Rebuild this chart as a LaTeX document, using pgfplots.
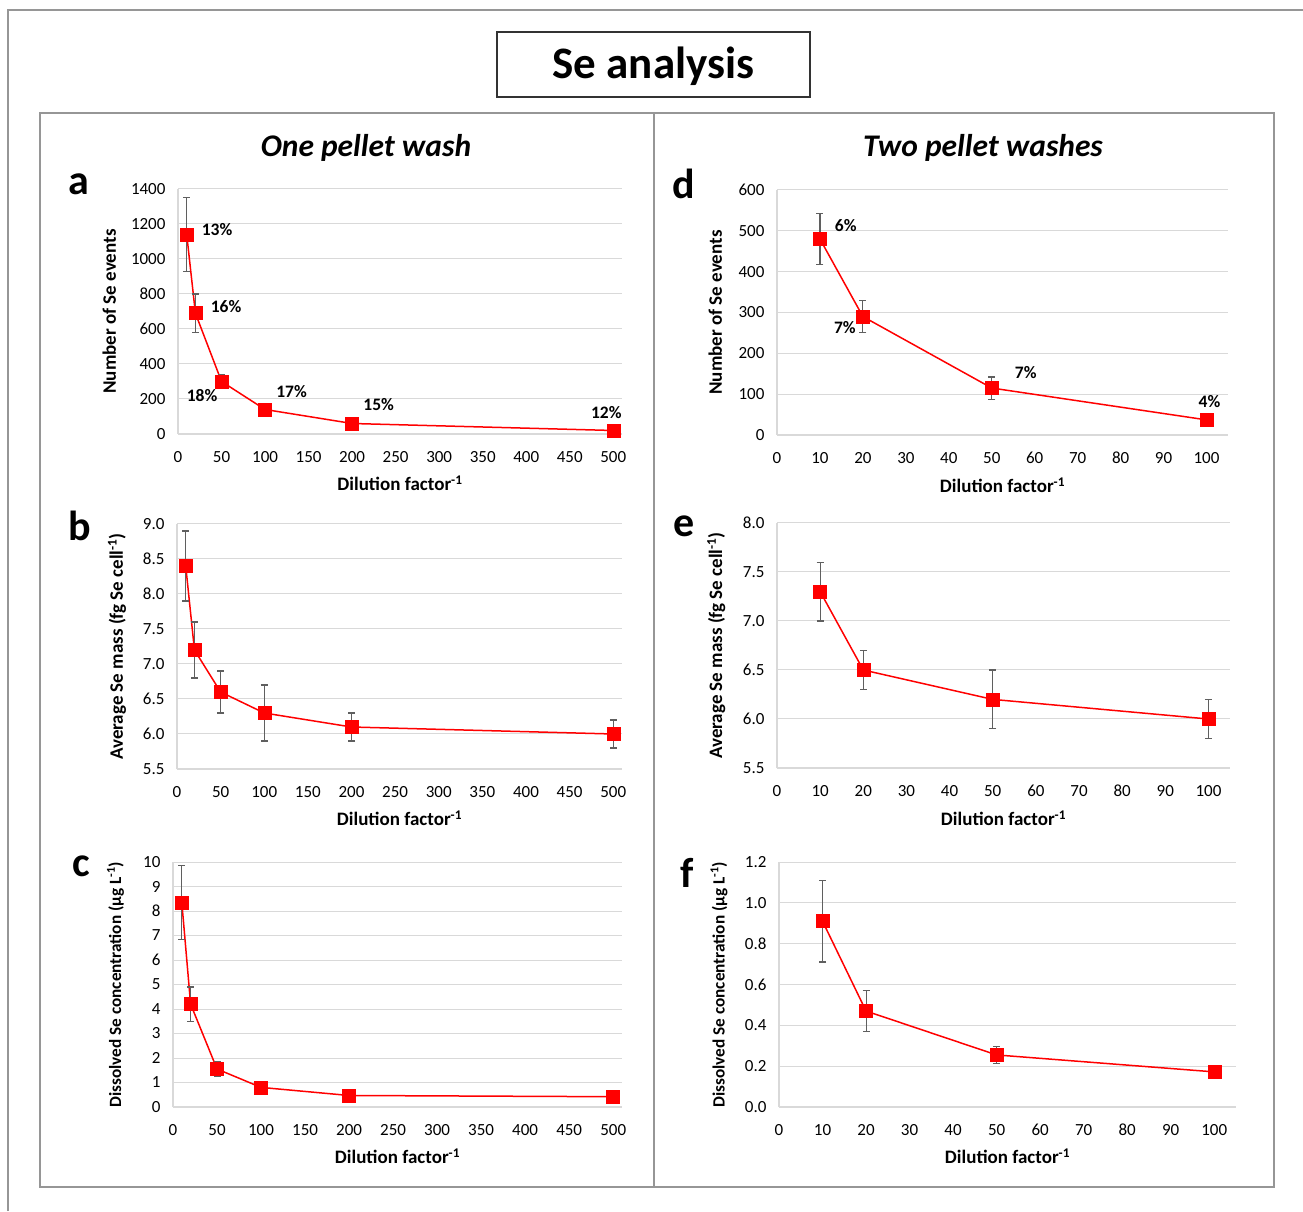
\documentclass[border=0pt]{standalone}
\usepackage{fontspec}
\setmainfont{Carlito}
\usepackage{pgfplots}
\pgfplotsset{compat=1.18}
\definecolor{gridgray}{RGB}{217,217,217}
\definecolor{errgray}{RGB}{95,95,95}
\definecolor{framegray}{RGB}{150,150,150}

\pgfplotsset{
  sepanel/.style={
    scale only axis, height=245pt,
    axis x line=bottom, axis y line=left,
    axis line style={-, draw=gridgray, line width=1.2pt},
    ymajorgrids, grid style={gridgray, line width=1pt},
    tick style={draw=none}, major tick length=0pt,
    tick label style={font=\fontsize{17}{19}\selectfont},
    /pgf/number format/assume math mode=true,
    /pgf/number format/1000 sep={},
    xticklabel style={yshift=-14pt, text height=11pt, text depth=0pt},
    yticklabel style={xshift=-9pt},
    label style={font=\bfseries\fontsize{19}{21}\selectfont},
    xmin=0, clip=false,
  },
  leftx/.style={xmax=510, xtick={0,50,...,500}},
  rightx/.style={xmax=105, xtick={0,10,...,100}},
  dec1/.style={yticklabel style={/pgf/number format/.cd, fixed, fixed zerofill, precision=1}},
  smally/.style={ylabel style={font=\bfseries\fontsize{17.2}{19}\selectfont}},
  seline/.style={red, line width=1.5pt, mark=square*,
    mark options={solid, fill=red, draw=red, line width=0.5pt, mark size=6.5pt},
    error bars/.cd, y dir=both, y explicit,
    error bar style={errgray, line width=1.1pt},
    error mark options={errgray, rotate=90, mark size=3.5pt, line width=1.1pt}},
}
\tikzset{pct/.style={font=\bfseries\fontsize{17.5}{19}\selectfont, anchor=center}}

\newcommand{\dilution}{Dilution factor\textsuperscript{-1}}

\begin{document}
\begin{tikzpicture}[x=1pt, y=1pt]
\useasboundingbox (0,0) rectangle (1303,1211);

% frames (pixel rows measured from the top: y = 1211 - row)
\draw[framegray, line width=2pt] (8,0) -- (8,1201) -- (1303,1201);
\draw[framegray, line width=2pt] (40,{1211-113}) rectangle (1274,{1211-1187});
\draw[framegray, line width=1.5pt] (654,{1211-113}) -- (654,{1211-1187});
\draw[black!80, line width=1.5pt] (497,{1211-32}) rectangle (810,{1211-97});
\node[font=\bfseries\fontsize{45}{50}\selectfont] at (653.5,{1211-66}) {Se analysis};
\node[font=\bfseries\itshape\fontsize{31.5}{36}\selectfont] at (366,{1211-148}) {One pellet wash};
\node[font=\bfseries\itshape\fontsize{31.5}{36}\selectfont] at (983,{1211-148}) {Two pellet washes};

% panel letters
\node[font=\bfseries\fontsize{42}{46}\selectfont] at (79,{1211-184}) {a};
\node[font=\bfseries\fontsize{42}{46}\selectfont] at (80,{1211-526}) {b};
\node[font=\bfseries\fontsize{42}{46}\selectfont] at (81,{1211-866}) {c};
\node[font=\bfseries\fontsize{42}{46}\selectfont] at (684,{1211-184}) {d};
\node[font=\bfseries\fontsize{42}{46}\selectfont] at (684,{1211-526}) {e};
\node[font=\bfseries\fontsize{42}{46}\selectfont] at (687,{1211-873}) {f};

% a
\begin{axis}[sepanel, leftx, at={(178pt,777pt)}, anchor=south west, width=444pt,
  ymin=0, ymax=1400, ytick={0,200,...,1400},
  xlabel={\dilution}, ylabel={Number of Se events},
  xlabel style={at={(axis description cs:0.5,-0.2)}, anchor=center},
  ylabel style={at={(axis description cs:-0.155,0.5)}, anchor=center}]
\addplot[seline] coordinates {
  (10,1140) +- (0,210)
  (20,690) +- (0,110)
  (50,300) +- (0,40)
  (100,140) +- (0,12)
  (200,60) +- (0,6)
  (500,20) +- (0,3)
};
\node[pct] at (axis cs:44.8,1171) {13\%};
\node[pct] at (axis cs:55.2,731) {16\%};
\node[pct] at (axis cs:27.6,217) {18\%};
\node[pct] at (axis cs:130.5,240) {17\%};
\node[pct] at (axis cs:230.5,166) {15\%};
\node[pct] at (axis cs:492,120) {12\%};
\end{axis}

% b
\begin{axis}[sepanel, leftx, dec1, at={(177pt,442pt)}, anchor=south west, width=445pt,
  ymin=5.5, ymax=9.0, ytick={5.5,6.0,...,9.0},
  xlabel={\dilution}, ylabel={Average Se mass (fg Se cell\textsuperscript{-1})},
  xlabel style={at={(axis description cs:0.5,-0.2)}, anchor=center},
  ylabel style={at={(axis description cs:-0.135,0.5)}, anchor=center}]
\addplot[seline] coordinates {
  (10,8.4) +- (0,0.5)
  (20,7.2) +- (0,0.4)
  (50,6.6) +- (0,0.3)
  (100,6.3) +- (0,0.4)
  (200,6.1) +- (0,0.2)
  (500,6.0) +- (0,0.2)
};
\end{axis}

% c
\begin{axis}[sepanel, leftx, smally, at={(173pt,104pt)}, anchor=south west, width=449pt,
  ymin=0, ymax=10, ytick={0,1,...,10},
  xlabel={\dilution}, ylabel={Dissolved Se concentration (µg L\textsuperscript{-1})},
  xlabel style={at={(axis description cs:0.5,-0.2)}, anchor=center},
  ylabel style={at={(axis description cs:-0.128,0.5)}, anchor=center}]
\addplot[seline] coordinates {
  (10,8.35) +- (0,1.5)
  (20,4.2) +- (0,0.7)
  (50,1.55) +- (0,0.3)
  (100,0.8) +- (0,0.05)
  (200,0.47) +- (0,0.03)
  (500,0.42) +- (0,0.02)
};
\end{axis}

% d
\begin{axis}[sepanel, rightx, at={(777pt,776pt)}, anchor=south west, width=451pt,
  ymin=0, ymax=600, ytick={0,100,...,600},
  xlabel={\dilution}, ylabel={Number of Se events},
  xlabel style={at={(axis description cs:0.5,-0.204)}, anchor=center},
  ylabel style={at={(axis description cs:-0.137,0.5)}, anchor=center}]
\addplot[seline] coordinates {
  (10,480) +- (0,62)
  (20,290) +- (0,40)
  (50,115) +- (0,27)
  (100,37) +- (0,8)
};
\node[pct] at (axis cs:16.0,514) {6\%};
\node[pct] at (axis cs:15.8,264) {7\%};
\node[pct] at (axis cs:57.9,154) {7\%};
\node[pct] at (axis cs:100.7,81) {4\%};
\end{axis}

% e
\begin{axis}[sepanel, rightx, dec1, at={(777pt,443pt)}, anchor=south west, width=453pt,
  ymin=5.5, ymax=8.0, ytick={5.5,6.0,...,8.0},
  xlabel={\dilution}, ylabel={Average Se mass (fg Se cell\textsuperscript{-1})},
  xlabel style={at={(axis description cs:0.5,-0.204)}, anchor=center},
  ylabel style={at={(axis description cs:-0.134,0.5)}, anchor=center}]
\addplot[seline] coordinates {
  (10,7.3) +- (0,0.3)
  (20,6.5) +- (0,0.2)
  (50,6.2) +- (0,0.3)
  (100,6.0) +- (0,0.2)
};
\end{axis}

% f
\begin{axis}[sepanel, rightx, dec1, smally, at={(779pt,104pt)}, anchor=south west, width=457pt,
  ymin=0, ymax=1.2, ytick={0,0.2,...,1.2},
  xlabel={\dilution}, ylabel={Dissolved Se concentration (µg L\textsuperscript{-1})},
  xlabel style={at={(axis description cs:0.5,-0.2)}, anchor=center},
  ylabel style={at={(axis description cs:-0.131,0.5)}, anchor=center}]
\addplot[seline] coordinates {
  (10,0.91) +- (0,0.2)
  (20,0.47) +- (0,0.1)
  (50,0.255) +- (0,0.04)
  (100,0.172) +- (0,0.025)
};
\end{axis}
\end{tikzpicture}
\end{document}
